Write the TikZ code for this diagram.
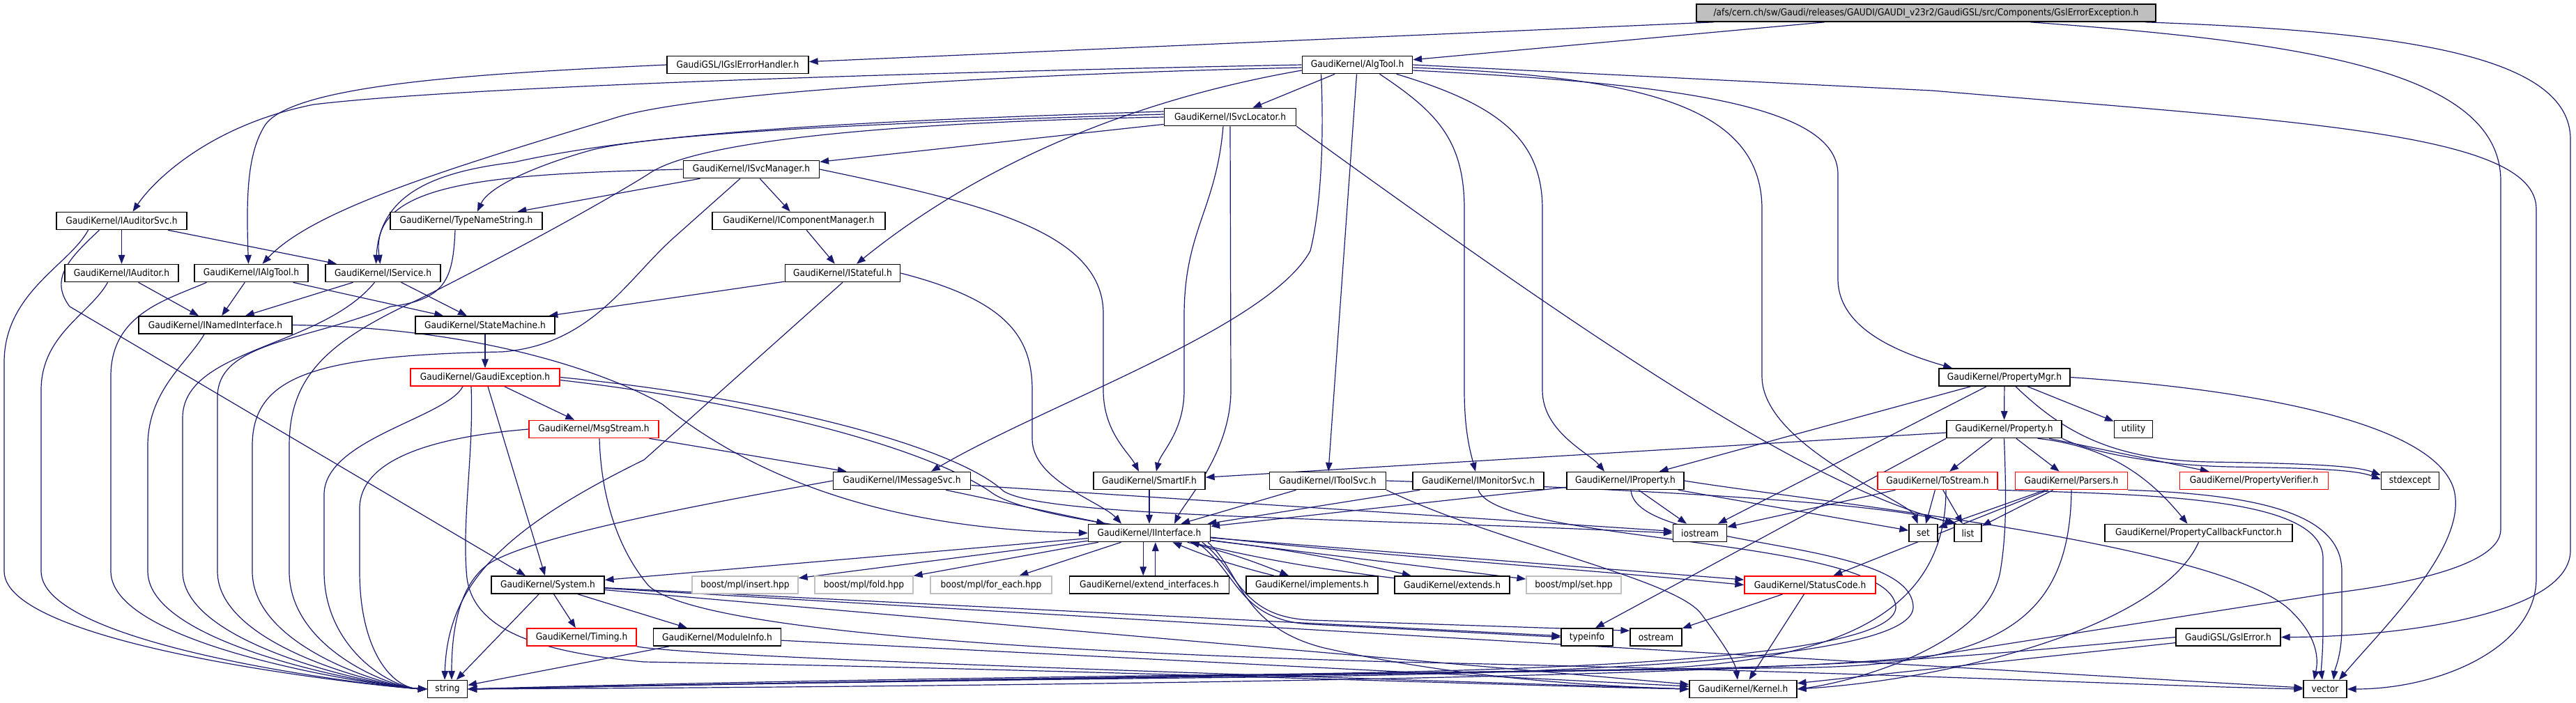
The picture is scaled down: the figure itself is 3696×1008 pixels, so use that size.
\documentclass[tikz,border=0pt]{standalone}
\usepackage{fontspec}
\usetikzlibrary{arrows.meta}
\newfontfamily\gfont[FakeStretch=0.9]{DejaVu Sans}
\definecolor{edgec}{HTML}{191970}
\definecolor{redc}{HTML}{FF0000}
\definecolor{grayc}{HTML}{BFBFBF}
\pgfdeclarelayer{bg}
\pgfsetlayers{bg,main}
\tikzset{
  nb/.style={draw=black, fill=white, line width=0.4pt, minimum height=6.25pt, inner sep=0pt,
    font=\gfont\fontsize{3.4pt}{4pt}\selectfont, text=black},
  rn/.style={nb, draw=redc},
  gn/.style={nb, draw=grayc},
  mn/.style={nb, fill=grayc},
  e/.style={draw=edgec, line width=0.3pt, -{Triangle[length=3.2pt,width=2.4pt]}},
}
\begin{document}
\begin{tikzpicture}[x=0.25pt,y=-0.25pt]
\useasboundingbox (0,0) rectangle (3696,1008);
% nodes
\node[mn, minimum width=164.75pt] (main) at (2763.5,18.5) {/afs/cern.ch/sw/Gaudi/releases/GAUDI/GAUDI\_v23r2/GaudiGSL/src/Components/GslErrorException.h};
\node[nb, minimum width=50.75pt] (igeh) at (1058.5,93) {GaudiGSL/IGslErrorHandler.h};
\node[nb, minimum width=39.5pt] (at) at (1947.5,93) {GaudiKernel/AlgTool.h};
\node[nb, minimum width=47.25pt] (isl) at (1765,168) {GaudiKernel/ISvcLocator.h};
\node[nb, minimum width=48.75pt] (ism) at (1078,243) {GaudiKernel/ISvcManager.h};
\node[nb, minimum width=46.75pt] (ias) at (174.5,317) {GaudiKernel/IAuditorSvc.h};
\node[nb, minimum width=54.5pt] (tns) at (669,317) {GaudiKernel/TypeNameString.h};
\node[nb, minimum width=62pt] (icm) at (1146,317) {GaudiKernel/IComponentManager.h};
\node[nb, minimum width=40.75pt] (iaud) at (174.5,392) {GaudiKernel/IAuditor.h};
\node[nb, minimum width=40.75pt] (ialg) at (360.5,392) {GaudiKernel/IAlgTool.h};
\node[nb, minimum width=41.25pt] (isvc) at (549.5,392) {GaudiKernel/IService.h};
\node[nb, minimum width=41.25pt] (ist) at (1209,392) {GaudiKernel/IStateful.h};
\node[nb, minimum width=55pt] (ini) at (309,466.5) {GaudiKernel/INamedInterface.h};
\node[nb, minimum width=50pt] (sm) at (696,466.5) {GaudiKernel/StateMachine.h};
\node[rn, minimum width=53.5pt] (ge) at (696,541.5) {GaudiKernel/GaudiException.h};
\node[nb, minimum width=47pt] (pm) at (2876,541.5) {GaudiKernel/PropertyMgr.h};
\node[rn, minimum width=46.5pt] (ms) at (852,616) {GaudiKernel/MsgStream.h};
\node[nb, minimum width=41.25pt] (prop) at (2875.5,616) {GaudiKernel/Property.h};
\node[nb, minimum width=13.75pt] (util) at (3061,616) {utility};
\node[nb, minimum width=49.25pt] (ims) at (1294,690) {GaudiKernel/IMessageSvc.h};
\node[nb, minimum width=40pt] (sif) at (1649,690) {GaudiKernel/SmartIF.h};
\node[nb, minimum width=41.75pt] (its) at (1905,690) {GaudiKernel/IToolSvc.h};
\node[nb, minimum width=47pt] (imon) at (2121,690) {GaudiKernel/IMonitorSvc.h};
\node[nb, minimum width=42pt] (iprop) at (2332,690) {GaudiKernel/IProperty.h};
\node[rn, minimum width=43pt] (tos) at (2780,690) {GaudiKernel/ToStream.h};
\node[rn, minimum width=40.25pt] (pars) at (2972,690) {GaudiKernel/Parsers.h};
\node[rn, minimum width=53.25pt] (pv) at (3234,690) {GaudiKernel/PropertyVerifier.h};
\node[nb, minimum width=20.75pt] (stdx) at (3458,690) {stdexcept};
\node[nb, minimum width=43.75pt] (ii) at (1649,765) {GaudiKernel/IInterface.h};
\node[nb, minimum width=19.25pt] (ios) at (2439,765) {iostream};
\node[nb, minimum width=10.25pt] (nset) at (2759.5,765) {set};
\node[nb, minimum width=9.75pt] (nlist) at (2823.5,765) {list};
\node[nb, minimum width=67.25pt] (pcf) at (3154.5,765) {GaudiKernel/PropertyCallbackFunctor.h};
\node[nb, minimum width=40.5pt] (sys) at (786,839.5) {GaudiKernel/System.h};
\node[gn, minimum width=38pt] (mins) at (1069,839.5) {boost/mpl/insert.hpp};
\node[gn, minimum width=35.25pt] (mfold) at (1239.5,839.5) {boost/mpl/fold.hpp};
\node[gn, minimum width=43.5pt] (mfe) at (1422,839.5) {boost/mpl/for\_each.hpp};
\node[nb, minimum width=57.25pt] (ei) at (1649,839.5) {GaudiKernel/extend\_interfaces.h};
\node[nb, minimum width=47.25pt] (impl) at (1882.5,839.5) {GaudiKernel/implements.h};
\node[nb, minimum width=41.25pt] (ext) at (2083.5,839.5) {GaudiKernel/extends.h};
\node[gn, minimum width=34pt] (mset) at (2258,839.5) {boost/mpl/set.hpp};
\node[rn, minimum width=47pt] (sc) at (2597,839.5) {GaudiKernel/StatusCode.h};
\node[rn, minimum width=39.25pt] (tim) at (834.5,914.5) {GaudiKernel/Timing.h};
\node[nb, minimum width=45.75pt] (mi) at (1029,914.5) {GaudiKernel/ModuleInfo.h};
\node[nb, minimum width=18.5pt] (ti) at (2277,914.5) {typeinfo};
\node[nb, minimum width=18.5pt] (ost) at (2376,914.5) {ostream};
\node[nb, minimum width=37.5pt] (gsl) at (3197,914.5) {GaudiGSL/GslError.h};
\node[nb, minimum width=14.25pt] (str) at (642,989) {string};
\node[nb, minimum width=38.5pt] (ker) at (2501,989) {GaudiKernel/Kernel.h};
\node[nb, minimum width=15.5pt] (vec) at (3336,989) {vector};
% edges
\begin{pgfonlayer}{bg}
% ---- main
\draw[e] (main) -- (igeh);
\draw[e] (main) -- (at);
\draw[e] ([xshift=78.6pt]main.south) .. controls (3450,45) and (3688,80) .. (3688,200) -- (3688,790) .. controls (3688,880) and (3450,914) .. (gsl.east);
\draw[e] ([xshift=37.4pt]main.south) .. controls (3300,60) and (3588,100) .. (3588,260) -- (3588,760) .. controls (3588,820) and (3400,845) .. (3340,852) -- (2772,941) .. controls (2500,972) and (1500,985) .. (str.east);
% ---- IGslErrorHandler
\draw[e] (igeh.west) .. controls (700,105) and (420,120) .. (380,180) .. controls (355,220) and (353,280) .. ([xshift=-1pt]ialg.north);
% ---- AlgTool
\draw[e] (at.west) .. controls (1500,100) and (700,120) .. (450,150) .. controls (300,180) and (220,260) .. ([xshift=4pt]ias.north);
\draw[e] ([yshift=-1pt]at.west) .. controls (1500,105) and (1000,130) .. (880,170) .. controls (650,240) and (450,300) .. ([xshift=4pt]ialg.north);
\draw[e] (at) -- (isl);
\draw[e] ([yshift=-2pt]at.west) .. controls (1700,130) and (1450,200) .. ([xshift=5pt]ist.north);
\draw[e] ([xshift=-13pt]at.south) .. controls (1900,200) and (1895,300) .. (1880,360) .. controls (1820,470) and (1500,580) .. ([xshift=10.5pt]ims.north);
\draw[e] (at) -- (its);
\draw[e] ([xshift=8pt]at.south) .. controls (2060,160) and (2101,200) .. (2101,300) -- (2101,560) .. controls (2101,620) and (2110,650) .. ([xshift=-1pt]imon.north);
\draw[e] ([xshift=14pt]at.south) .. controls (2150,150) and (2213,200) .. (2213,300) -- (2213,560) .. controls (2213,620) and (2280,650) .. ([xshift=-7.5pt]iprop.north);
\draw[e] ([yshift=-2pt]at.east) .. controls (2400,120) and (2637,150) .. (2637,250) -- (2637,400) .. controls (2637,470) and (2720,505) .. ([xshift=-18.75pt]pm.north);
\draw[e] ([yshift=-1pt]at.east) .. controls (2350,110) and (2528,150) .. (2528,300) -- (2528,540) .. controls (2528,640) and (2740,720) .. ([xshift=-2pt]nset.north);
\draw[e] (at.east) -- (2772,130) .. controls (3300,175) and (3639,190) .. (3639,300) -- (3639,830) .. controls (3639,930) and (3500,989) .. (vec.east);
% ---- ISvcLocator
\draw[e] (isl) -- (ism);
\draw[e] ([yshift=1pt]isl.west) .. controls (1300,175) and (950,190) .. (850,215) .. controls (760,240) and (700,270) .. ([xshift=4pt]tns.north);
\draw[e] ([yshift=2pt]isl.west) .. controls (1300,172) and (950,185) .. (737,233) .. controls (620,247) and (545,280) .. ([xshift=-2.5pt]isvc.north);
\draw[e] ([xshift=-2.5pt]isl.south) .. controls (1745,300) and (1700,330) .. (1699,450) -- (1699,560) .. controls (1699,620) and (1665,650) .. ([xshift=2.5pt]sif.north);
\draw[e] (isl.south) -- (1766,560) .. controls (1766,650) and (1700,720) .. ([xshift=9pt]ii.north);
\draw[e] (isl.south east) .. controls (2300,500) and (2600,700) .. ([xshift=1pt]nlist.north west);
\draw[e] (isl.west) .. controls (1300,175) and (1000,200) .. (930,250) .. controls (850,300) and (700,380) .. (600,430) .. controls (470,490) and (415,540) .. (415,640) -- (415,820) .. controls (415,930) and (560,987) .. (str.west);
% ---- ISvcManager
\draw[e] (ism) -- (icm);
\draw[e] (ism) -- (tns);
\draw[e] (ism.west) .. controls (700,250) and (530,262) .. ([xshift=-1pt]isvc.north);
\draw[e] (ism.east) .. controls (1400,290) and (1583,330) .. (1583,450) -- (1583,560) .. controls (1583,620) and (1620,650) .. ([xshift=-3.75pt]sif.north);
\draw[e] ([xshift=-4pt]ism.south) -- (968,340) .. controls (900,400) and (850,495) .. (720,505) .. controls (450,510) and (362,540) .. (362,640) -- (362,820) .. controls (362,930) and (560,987) .. (str.west);
% ---- IComponentManager, IStateful
\draw[e] (icm) -- (ist);
\draw[e] (ist) -- (sm);
\draw[e] (ist.east) .. controls (1440,430) and (1481,480) .. (1481,560) -- (1481,630) .. controls (1481,690) and (1580,720) .. ([xshift=-10pt]ii.north);
\draw[e] (ist.south) -- (924,660) .. controls (720,760) and (642,840) .. ([xshift=-1pt]str.north);
% ---- IAuditorSvc and left column
\draw[e] (ias) -- (iaud);
\draw[e] (ias) -- (isvc);
\draw[e] ([xshift=-8pt]ias.south) .. controls (100,370) and (70,400) .. (100,440) -- ([xshift=-8pt]sys.north);
\draw[e] ([xshift=-12pt]ias.south) .. controls (100,380) and (6,420) .. (6,520) -- (6,820) .. controls (6,930) and (560,987) .. (str.west);
\draw[e] (iaud) -- (ini);
\draw[e] ([xshift=-5pt]iaud.south) .. controls (130,450) and (59,480) .. (59,560) -- (59,820) .. controls (59,930) and (560,987) .. (str.west);
\draw[e] (ialg) -- (ini);
\draw[e] (ialg) -- (sm);
\draw[e] ([xshift=-16pt]ialg.south) .. controls (240,430) and (159,450) .. (159,540) -- (159,820) .. controls (159,930) and (560,987) .. (str.west);
\draw[e] (isvc) -- (ini);
\draw[e] (isvc) -- (sm);
\draw[e] ([xshift=-3pt]isvc.south) .. controls (460,500) and (262,500) .. (262,600) -- (262,820) .. controls (262,930) and (560,987) .. (str.west);
\draw[e] (ini.east) .. controls (700,470) and (880,540) .. (950,580) .. controls (1100,700) and (1300,760) .. (ii.west);
\draw[e] ([xshift=-4pt]ini.south) .. controls (270,520) and (212,560) .. (212,640) -- (212,820) .. controls (212,930) and (560,987) .. (str.west);
\draw[e] ([xshift=-4pt]tns.south) .. controls (650,400) and (640,430) .. (560,440) .. controls (440,490) and (312,490) .. (312,570) -- (312,820) .. controls (312,930) and (560,987) .. (str.west);
\draw[e] (sm) -- (ge);
% ---- GaudiException
\draw[e] (ge) -- (ms);
\draw[e] (ge) -- (sys);
\draw[e] ([xshift=-8pt]ge.south) .. controls (640,600) and (465,630) .. (465,710) -- (465,820) .. controls (465,930) and (560,987) .. (str.west);
\draw[e] ([xshift=-5pt]ge.south) .. controls (680,650) and (662,750) .. (670,830) .. controls (680,900) and (760,935) .. (924,950) .. controls (1500,960) and (2200,985) .. (ker.west);
\draw[e] (ge.east) .. controls (1100,570) and (1370,640) .. (1440,705) .. controls (1500,742) and (1900,742) .. (ios.west);
\draw[e] ([yshift=-1pt]ge.east) .. controls (1100,580) and (1330,645) .. (1420,705) .. controls (1500,770) and (2100,800) .. (sc.west);
% ---- MsgStream
\draw[e] (ms) -- (ims);
\draw[e] (ms.west) .. controls (650,625) and (516,650) .. (516,730) -- (516,820) .. controls (516,930) and (560,987) .. (str.west);
\draw[e] ([xshift=2pt]ms.south) .. controls (862,700) and (880,780) .. (930,840) .. controls (980,890) and (1300,930) .. (2000,950) .. controls (2700,965) and (3100,985) .. (vec.west);
% ---- IMessageSvc
\draw[e] (ims) -- (ii);
\draw[e] (ims) -- (ios);
\draw[e] (ims.west) .. controls (1000,725) and (760,770) .. (700,810) .. controls (660,840) and (648,900) .. ([xshift=1.5pt]str.north);
% ---- SmartIF, IToolSvc, IMonitorSvc, IProperty
\draw[e] (sif) -- (ii);
\draw[e] (its) -- (ii);
\draw[e] (its.east) .. controls (2300,700) and (2700,720) .. (nlist.north west);
\draw[e] (its.south east) .. controls (2150,780) and (2400,830) .. (2440,880) .. controls (2470,920) and (2490,950) .. ([xshift=-2pt]ker.north);
\draw[e] (imon) -- (ii);
\draw[e] (imon.south) .. controls (2150,780) and (2710,770) .. (2720,870) .. controls (2725,940) and (2300,962) .. (1800,968) .. controls (1200,975) and (800,985) .. (str.east);
\draw[e] (iprop) -- (ii);
\draw[e] (iprop) -- (ios);
\draw[e] (iprop) -- (nset);
\draw[e] ([xshift=2pt]iprop.south) .. controls (2345,790) and (2740,770) .. (2745,870) .. controls (2750,945) and (2300,966) .. (1800,972) .. controls (1200,978) and (800,987) .. (str.east);
\draw[e] (iprop.east) .. controls (2600,720) and (3200,780) .. (3290,880) .. controls (3320,910) and (3328,940) .. ([xshift=-4pt]vec.north);
% ---- PropertyMgr
\draw[e] (pm) -- (prop);
\draw[e] (pm) -- (iprop);
\draw[e] (pm) -- (util);
\draw[e] ([xshift=4pt]pm.south) .. controls (2960,620) and (3030,660) .. (3170,663) .. controls (3300,665) and (3380,668) .. ([yshift=2pt]stdx.west);
\draw[e] (pm) -- (ios);
\draw[e] (pm.east) .. controls (3250,560) and (3490,610) .. (3520,700) .. controls (3545,780) and (3420,900) .. ([xshift=5pt]vec.north);
% ---- Property
\draw[e] (prop) -- (sif);
\draw[e] (prop) -- (tos);
\draw[e] (prop) -- (pars);
\draw[e] (prop) -- (pv);
\draw[e] (prop.south east) .. controls (3000,650) and (3100,668) .. (3200,670) .. controls (3320,672) and (3380,674) .. ([yshift=0.5pt]stdx.west);
\draw[e] ([xshift=12pt]prop.south) .. controls (3020,640) and (3080,680) .. ([xshift=-4pt]pcf.north);
\draw[e] (prop.south west) -- ([xshift=3pt]ti.north);
\draw[e] (prop.south) .. controls (2878,700) and (2880,760) .. (2870,820) .. controls (2850,930) and (2650,980) .. (ker.east);
% ---- ToStream, Parsers, PCF, GslError
\draw[e] (tos) -- (ios);
\draw[e] (tos) -- (nset);
\draw[e] (tos) -- (nlist);
\draw[e] ([xshift=3pt]tos.south) .. controls (2792,900) and (2600,958) .. (2300,962) .. controls (1500,972) and (900,985) .. (str.east);
\draw[e] (tos.south east) .. controls (3100,710) and (3330,715) .. (3333,800) -- (3333,900) .. controls (3333,940) and (3330,960) .. ([xshift=-1pt]vec.north);
\draw[e] (pars) -- (nset);
\draw[e] (pars) -- (nlist);
\draw[e] (pars) -- (sc);
\draw[e] (pars.south east) .. controls (3250,710) and (3360,740) .. (3360,820) -- (3360,900) .. controls (3360,940) and (3350,960) .. ([xshift=3pt]vec.north);
\draw[e] (pars.south) .. controls (2970,880) and (2880,952) .. (2600,958) .. controls (1800,970) and (900,984) .. (str.east);
\draw[e] (pcf.south) .. controls (3100,900) and (2800,975) .. (ker.east);
\draw[e] (gsl) -- (ker);
\draw[e] (gsl.west) .. controls (2900,935) and (2700,955) .. (2400,960) .. controls (1700,970) and (900,984) .. (str.east);
% ---- IInterface
\draw[e] (ii) -- (mins);
\draw[e] (ii) -- (mfold);
\draw[e] (ii) -- (mfe);
\draw[e] ([xshift=-2.2pt]ii.south) -- ([xshift=-2.2pt]ei.north);
\draw[e] ([xshift=2.2pt]ei.north) -- ([xshift=2.2pt]ii.south);
\draw[e] (ii) to[bend left=4] (impl);
\draw[e] (impl) to[bend left=4] (ii);
\draw[e] (ii) to[bend left=3] (ext);
\draw[e] (ext) to[bend left=3] (ii);
\draw[e] (ii) -- (mset);
\draw[e] (ii) -- (sys);
\draw[e] (ii) -- (sc);
\draw[e] ([xshift=17pt]ii.south) .. controls (1776,820) and (1776,890) .. (1880,896) -- (ti.west);
\draw[e] ([xshift=19pt]ii.south) .. controls (1778,820) and (1778,885) .. (1880,890) -- ([yshift=-1pt]ost.north west);
\draw[e] ([xshift=21pt]ii.south) .. controls (1780,820) and (1780,900) .. (1900,930) .. controls (2100,975) and (2300,985) .. (ker.west);
% ---- System etc.
\draw[e] (sys) -- (tim);
\draw[e] (sys) -- (mi);
\draw[e] (sys) -- (str);
\draw[e] (sys) -- (ker);
\draw[e] (sys) -- (ti);
\draw[e] (sys) -- (vec);
\draw[e] (tim.south east) .. controls (1000,945) and (2000,975) .. (ker.west);
\draw[e] (mi) -- (str);
\draw[e] (mi) -- (ker);
\draw[e] (sc) -- (ost);
\draw[e] (sc) -- (ker);
\end{pgfonlayer}
\end{tikzpicture}
\end{document}
